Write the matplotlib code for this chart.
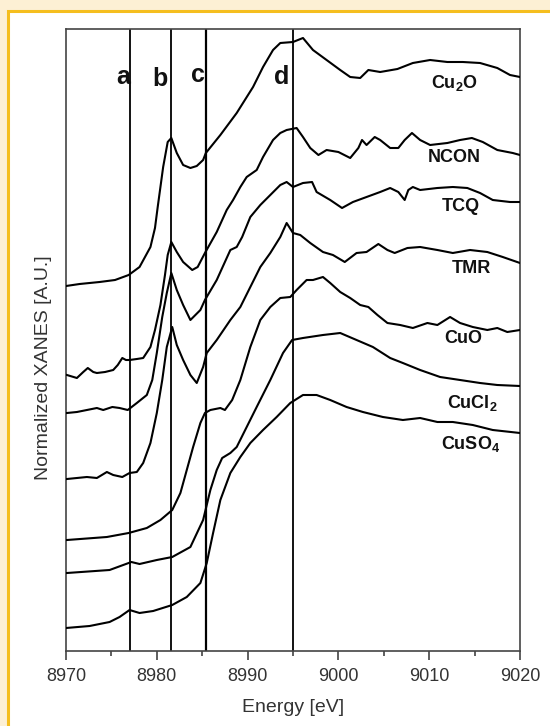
import matplotlib
matplotlib.use("Agg")
import matplotlib.pyplot as plt
from matplotlib.patches import Rectangle
from matplotlib.ticker import MultipleLocator

plt.rcParams['font.family'] = ['Liberation Sans', 'DejaVu Sans']
plt.rcParams['mathtext.default'] = 'regular'

# ---- data (energy in eV, offset normalized intensity) ----
cu2o_e = [8970.0, 8971.5, 8973.7, 8975.4, 8976.9, 8978.1, 8979.3, 8979.8, 8980.1, 8980.7, 8981.2, 8981.6,
          8982.2, 8982.9, 8983.7, 8984.4, 8985.1, 8985.4, 8987.0, 8988.8, 8990.6, 8991.7, 8992.8, 8993.6,
          8995.0, 8996.1, 8997.2, 8998.7, 9000.2, 9001.3, 9002.4, 9003.3, 9004.6, 9006.5, 9008.2, 9010.1,
          9012.0, 9013.7, 9015.6, 9017.5, 9018.9, 9020.0]
cu2o_i = [3.65, 3.67, 3.69, 3.71, 3.76, 3.84, 4.04, 4.23, 4.44, 4.84, 5.09, 5.13,
          4.98, 4.86, 4.83, 4.85, 4.91, 4.98, 5.16, 5.38, 5.64, 5.84, 6.01, 6.08,
          6.09, 6.13, 6.01, 5.91, 5.81, 5.74, 5.73, 5.81, 5.79, 5.82, 5.88, 5.91,
          5.89, 5.89, 5.88, 5.83, 5.76, 5.74]

ncon_e = [8970.1, 8971.2, 8971.9, 8972.4, 8973.0, 8973.4, 8974.3, 8975.2, 8975.7, 8976.2, 8976.6, 8977.0,
          8977.8, 8978.5, 8979.3, 8979.8, 8980.4, 8980.9, 8981.2, 8981.6, 8982.2, 8982.9, 8983.9, 8984.5,
          8985.3, 8986.6, 8987.7, 8988.4, 8989.2, 8989.9, 8991.0, 8991.7, 8992.8, 8993.6, 8994.3, 8995.4,
          8996.1, 8996.9, 8997.8, 8998.7, 9000.0, 9001.3, 9002.2, 9002.6, 9003.1, 9004.0, 9004.6, 9005.7,
          9006.6, 9007.3, 9008.1, 9009.0, 9010.1, 9012.0, 9013.4, 9014.7, 9015.9, 9017.5, 9019.2, 9020.0]
ncon_i = [2.76, 2.73, 2.79, 2.83, 2.79, 2.78, 2.79, 2.81, 2.86, 2.93, 2.91, 2.91,
          2.92, 2.93, 3.04, 3.21, 3.46, 3.76, 3.96, 4.09, 3.99, 3.89, 3.81, 3.84,
          3.98, 4.19, 4.41, 4.51, 4.64, 4.74, 4.81, 4.94, 5.11, 5.18, 5.21, 5.23,
          5.14, 5.03, 4.96, 5.01, 4.99, 4.93, 5.03, 5.11, 5.06, 5.14, 5.11, 5.03,
          5.03, 5.11, 5.18, 5.11, 5.06, 5.08, 5.11, 5.13, 5.09, 5.01, 4.98, 4.96]

tcq_e = [8970.1, 8971.2, 8972.3, 8973.4, 8974.1, 8975.1, 8975.9, 8976.8, 8977.8, 8978.9, 8979.5, 8980.0,
         8980.6, 8981.1, 8981.6, 8982.2, 8982.9, 8983.7, 8984.8, 8985.3, 8986.6, 8988.1, 8988.8, 8989.4,
         8990.3, 8991.4, 8992.5, 8993.6, 8994.3, 8995.0, 8996.1, 8997.1, 8997.6, 8999.1, 9000.4, 9001.6,
         9003.1, 9004.6, 9005.7, 9006.6, 9007.3, 9007.7, 9008.2, 9009.0, 9010.9, 9012.6, 9014.2, 9015.6,
         9017.0, 9018.9, 9020.0]
tcq_i = [2.38, 2.39, 2.41, 2.43, 2.41, 2.44, 2.43, 2.41, 2.48, 2.56, 2.71, 2.98,
         3.34, 3.58, 3.78, 3.61, 3.46, 3.31, 3.41, 3.51, 3.71, 4.01, 4.04, 4.14,
         4.34, 4.46, 4.56, 4.66, 4.69, 4.64, 4.68, 4.69, 4.59, 4.51, 4.43, 4.49,
         4.54, 4.59, 4.63, 4.59, 4.51, 4.61, 4.64, 4.61, 4.63, 4.64, 4.63, 4.58,
         4.51, 4.49, 4.49]

tmr_e = [8970.1, 8971.2, 8972.3, 8973.4, 8974.5, 8975.2, 8976.2, 8977.0, 8977.8, 8978.5, 8979.3, 8980.0,
         8980.6, 8981.1, 8981.7, 8982.2, 8982.9, 8983.7, 8984.4, 8985.1, 8985.5, 8986.6, 8988.1, 8989.2,
         8990.3, 8991.4, 8992.5, 8993.6, 8994.3, 8995.0, 8995.8, 8996.9, 8998.3, 8999.4, 9000.7, 9002.0,
         9003.1, 9004.4, 9005.4, 9006.2, 9007.6, 9009.0, 9010.9, 9012.6, 9014.5, 9016.4, 9018.1, 9020.0]
tmr_i = [1.72, 1.73, 1.74, 1.73, 1.79, 1.76, 1.74, 1.78, 1.79, 1.88, 2.08, 2.38,
         2.71, 3.04, 3.24, 3.06, 2.91, 2.76, 2.68, 2.84, 2.98, 3.11, 3.31, 3.44,
         3.64, 3.84, 3.98, 4.14, 4.28, 4.18, 4.16, 4.08, 3.99, 3.96, 3.89, 3.98,
         3.99, 4.07, 4.01, 3.98, 4.03, 4.04, 4.01, 3.98, 4.01, 3.99, 3.94, 3.88]

cuo_e = [8970.1, 8974.5, 8976.9, 8978.9, 8980.4, 8981.7, 8982.6, 8983.3, 8984.0, 8984.8, 8985.3, 8985.9,
         8987.0, 8987.5, 8988.3, 8989.2, 8990.3, 8991.4, 8992.5, 8993.6, 8994.7, 8995.4, 8996.5, 8997.2,
         8998.3, 8999.1, 9000.2, 9001.3, 9002.4, 9003.3, 9004.3, 9005.4, 9006.8, 9008.2, 9009.8, 9010.9,
         9012.3, 9013.4, 9014.8, 9016.4, 9017.5, 9018.6, 9020.0]
cuo_i = [1.11, 1.14, 1.18, 1.23, 1.31, 1.41, 1.58, 1.81, 2.04, 2.28, 2.38, 2.41,
         2.43, 2.41, 2.51, 2.71, 3.04, 3.31, 3.44, 3.53, 3.54, 3.61, 3.71, 3.71,
         3.74, 3.68, 3.59, 3.53, 3.46, 3.44, 3.36, 3.28, 3.26, 3.23, 3.28, 3.26,
         3.34, 3.28, 3.24, 3.21, 3.23, 3.19, 3.21]

cucl2_e = [8970.1, 8974.8, 8976.3, 8977.2, 8978.1, 8980.0, 8981.7, 8983.7, 8985.1, 8985.9, 8986.6, 8987.2,
           8988.1, 8988.8, 8989.9, 8991.0, 8992.5, 8993.9, 8994.9, 8996.1, 8998.3, 9000.2, 9002.0, 9003.8,
           9005.7, 9007.1, 9009.0, 9011.2, 9013.4, 9015.6, 9017.5, 9020.0]
cucl2_i = [0.78, 0.81, 0.86, 0.89, 0.87, 0.91, 0.94, 1.04, 1.31, 1.61, 1.81, 1.93,
           1.98, 2.04, 2.24, 2.44, 2.71, 2.98, 3.11, 3.13, 3.16, 3.18, 3.11, 3.04,
           2.93, 2.88, 2.81, 2.74, 2.71, 2.68, 2.66, 2.65]

cuso4_e = [8970.0, 8972.6, 8974.8, 8975.9, 8977.0, 8978.1, 8979.6, 8981.7, 8983.3, 8984.8, 8985.5, 8986.2,
           8987.0, 8988.1, 8989.2, 8990.3, 8991.7, 8993.2, 8994.7, 8996.1, 8997.6, 8999.1, 9000.9, 9002.7,
           9004.9, 9007.1, 9009.0, 9010.9, 9012.6, 9014.8, 9017.0, 9020.0]
cuso4_i = [0.23, 0.25, 0.29, 0.34, 0.41, 0.38, 0.40, 0.46, 0.54, 0.68, 0.88, 1.18,
           1.51, 1.78, 1.94, 2.08, 2.21, 2.34, 2.48, 2.56, 2.56, 2.51, 2.44, 2.39,
           2.34, 2.31, 2.33, 2.29, 2.29, 2.26, 2.21, 2.18]

series_names = ['Cu$_2$O', 'NCON', 'TCQ', 'TMR', 'CuO', 'CuCl$_2$', 'CuSO$_4$']
label_e = [9012.8, 9012.8, 9013.5, 9014.6, 9013.7, 9014.7, 9014.6]
label_i = [5.63, 4.89, 4.40, 3.78, 3.08, 2.43, 2.02]

marker_names = ['a', 'b', 'c', 'd']
marker_e = [8977.0, 8981.6, 8985.4, 8995.0]
marker_text_e = [8976.3, 8980.4, 8984.5, 8993.7]
marker_text_i = [5.67, 5.65, 5.69, 5.67]

xticks = [8970, 8980, 8990, 9000, 9010, 9020]

# ---- figure ----
W, H = 550, 726
fig = plt.figure(figsize=(W / 100, H / 100), dpi=100)
fig.patch.set_facecolor('#FDF0D4')
frame = Rectangle((8 / W, -0.1), 1.2, 1 - 11 / H + 0.1, transform=fig.transFigure,
                  facecolor='white', edgecolor='#F5BE1E', linewidth=2.2, zorder=-10)
fig.patches.append(frame)

ax = fig.add_axes([66 / W, 1 - 651 / H, (520 - 66) / W, (651 - 29) / H])
ax.set_facecolor('white')
ax.set_zorder(5)

curves = [(cu2o_e, cu2o_i), (ncon_e, ncon_i), (tcq_e, tcq_i), (tmr_e, tmr_i),
          (cuo_e, cuo_i), (cucl2_e, cucl2_i), (cuso4_e, cuso4_i)]
for (e, i) in curves:
    ax.plot(e, i, color='black', lw=1.5, solid_joinstyle='round', zorder=3)

for name, le, li in zip(series_names, label_e, label_i):
    ax.text(le, li, name, ha='center', va='baseline', fontsize=13, fontweight='bold', color='#111111')

for name, me, te, ti in zip(marker_names, marker_e, marker_text_e, marker_text_i):
    ax.axvline(me, color='black', lw=1.3 if name != 'c' else 1.6, zorder=2)
    ax.text(te, ti, name, ha='center', va='baseline', fontsize=18, fontweight='bold', color='#111111')

ax.set_xlim(8970, 9020)
ax.set_ylim(0, 6.22)
ax.set_xticks(xticks)
ax.xaxis.set_minor_locator(MultipleLocator(5))
ax.set_yticks([])
ax.tick_params(axis='x', which='major', direction='out', length=6.5, width=1.1,
               labelsize=13, pad=6, colors='#333333', labelcolor='#333333')
ax.tick_params(axis='x', which='minor', direction='out', length=3.5, width=1.1, colors='#333333')
for sp in ax.spines.values():
    sp.set_color('#444444')
    sp.set_linewidth(1.2)

ax.set_xlabel('Energy [eV]', fontsize=14, color='#333333', labelpad=10)
ax.set_ylabel('Normalized XANES [A.U.]', fontsize=14, color='#333333')
ax.yaxis.set_label_coords(-0.031, 0.455)

fig.savefig('out.png', dpi=100, facecolor=fig.get_facecolor())
